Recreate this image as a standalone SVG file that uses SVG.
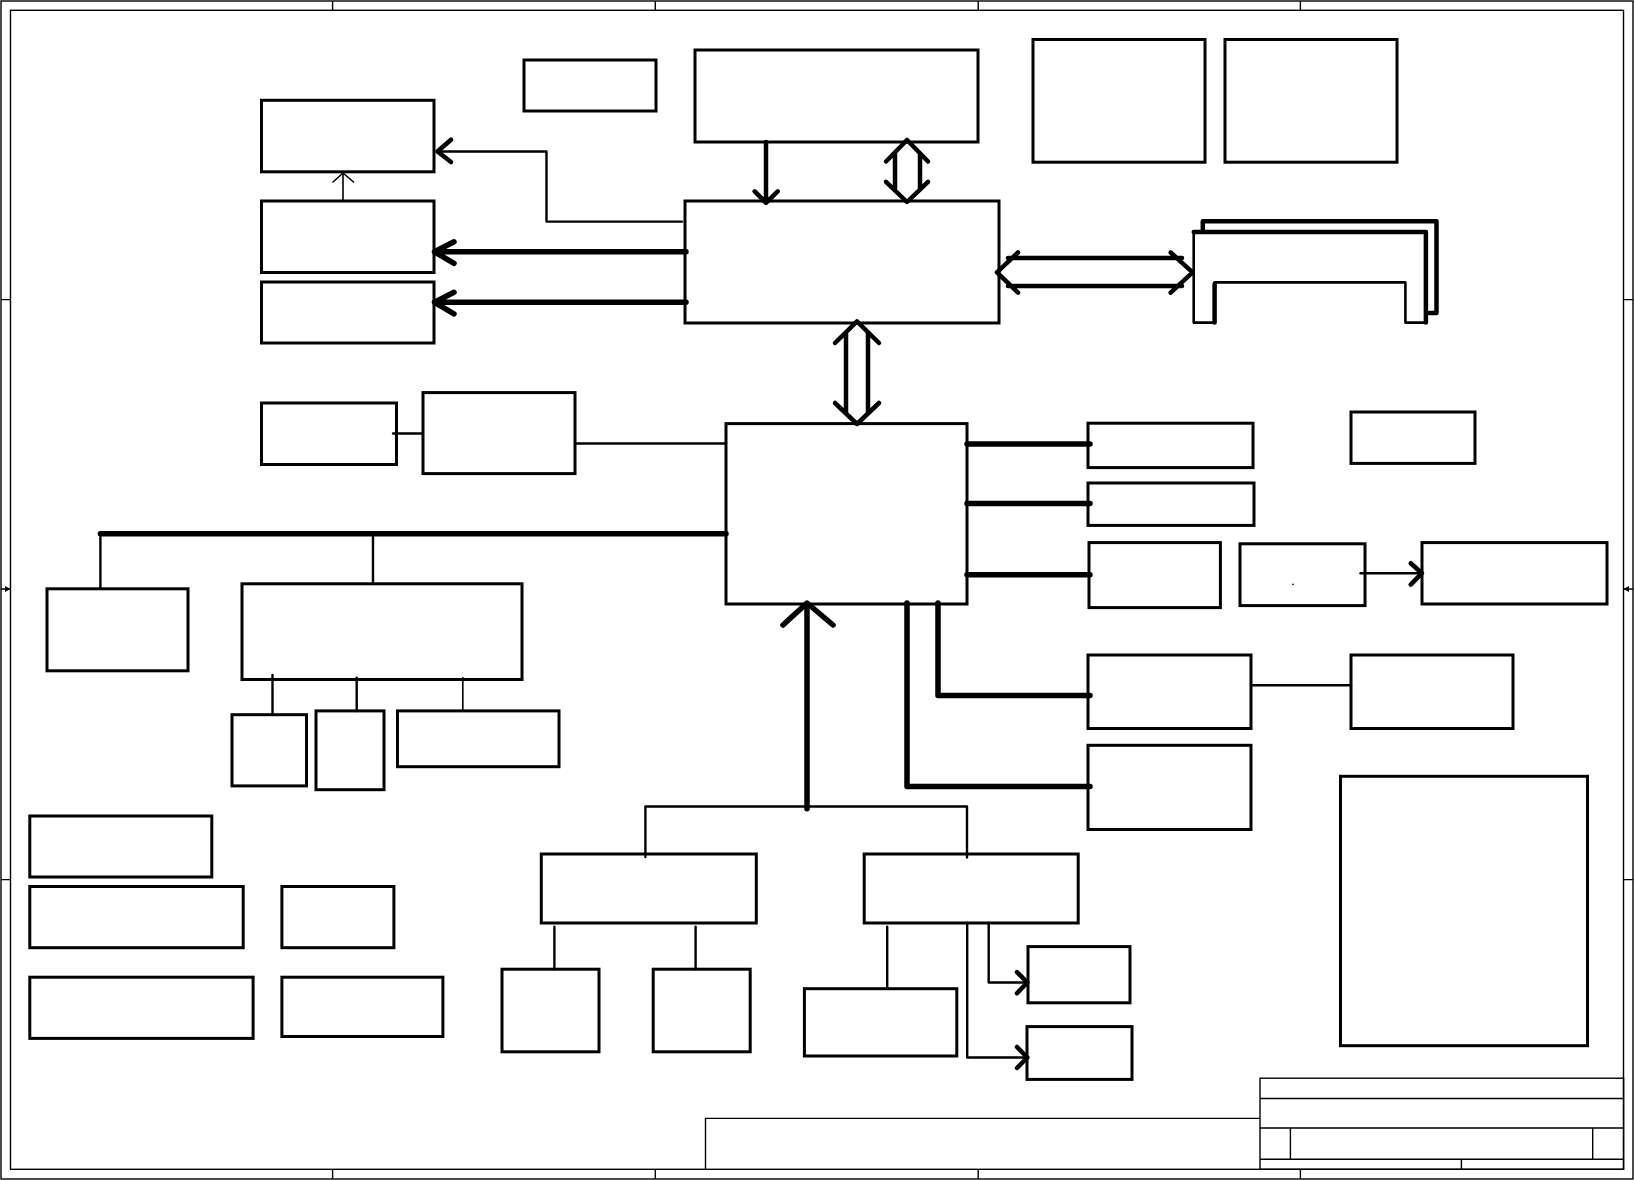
<svg xmlns="http://www.w3.org/2000/svg" width="1634" height="1180" viewBox="0 0 1634 1180">
<style>
.frame{fill:none;stroke:#000;stroke-width:1.4}
.box{fill:none;stroke:#000;stroke-width:3}
.c{fill:none;stroke:#000;stroke-linecap:round;stroke-linejoin:round}
.t1{stroke-width:1.6}
.t2{stroke-width:2.4}
.t4{stroke-width:4.5}
.t5{stroke-width:5.5}
</style>
<rect width="1634" height="1180" fill="#fff"/>
<g id="frame">
<rect class="frame" x="1" y="1" width="1632" height="1178"/>
<rect class="frame" x="10.5" y="10.3" width="1613" height="1159"/>
<path class="frame" d="M332.6,1V10.3M655.3,1V10.3M978.2,1V10.3M1300.4,1V10.3M332.6,1169.3V1179M655.3,1169.3V1179M978.2,1169.3V1179M1300.4,1169.3V1179M1,299.6H10.5M1,879.6H10.5M1623.6,299.6H1633M1623.6,879.6H1633M1,589H10.5M1623.6,589H1633"/>
<path d="M5,586L10.5,589L5,592Z M1629,586L1623.6,589L1629,592Z" fill="#000"/>
<rect class="frame" x="1260" y="1078.2" width="363.6" height="91.1"/>
<path class="frame" d="M1260,1098.5H1623.6M1260,1128H1623.6M1260,1159.3H1623.6M1290.4,1128V1159.3M1592.7,1128V1159.3M1461.4,1159.3V1169.3M705.5,1169.3V1118.4H1260"/>
</g>
<g id="connectors">
<path class="c t4" d="M766,142V201M754.7,191.3L766,202.8L777.7,191.3"/>
<path class="c t4" d="M886,161.5L907,140L928,161.5M886,181.8L907,202L928,181.8M895,154V188M920,154V188"/>
<path class="c t2" d="M682,221.6H546.5V151.5H438"/>
<path class="c t4" d="M451,139.7L437.5,151.5L451,162"/>
<path class="c t5" d="M686,251.8H437M454,241.8L434.5,251.8L454,263.3"/>
<path class="c t5" d="M686,302.3H437M454,292.3L434.5,302.3L454,313.8"/>
<path class="c t1" d="M343,201V173.5M333,182L343,173L353.5,182"/>
<path class="c t4" d="M1018,252.5L997,272.4L1018,292.7M1170.7,252.5L1192.6,272.4L1170.7,292.7M1008,258H1182M1008,286H1182"/>
<path class="c t4" d="M835,343L857,321.4L879,343M835,403L857,424L879,403M846,333V413M868,333V413"/>
<path class="c t2" d="M393,433.5H423M575,443.5H726"/>
<path class="c t5" d="M100.4,533.8H726"/>
<path class="c t2" d="M100.4,533.8V588.8M373,537V583.8M272.5,675V714.7M356.7,677.6V711"/>
<path class="c t1" d="M462.8,677.6V711"/>
<path class="c t5" d="M967,443.9H1090M967,503.6H1090M967,574.8H1090"/>
<path class="c t2" d="M1360.5,573.2H1420"/>
<path class="c t4" d="M1410.7,563.2L1422,573.2L1410.7,584.7"/>
<path class="c t5" d="M938,603V695.6H1090M907,603V786.6H1090"/>
<path class="c t2" d="M1251,685.2H1351"/>
<path class="c t5" d="M807,808.8V606M783,625L807,603L833,625"/>
<path class="c t2" d="M645.4,857V806.5H967V857.4M554.4,926.7V969.2M695.6,926.7V969.2M887.2,926.7V988.7M988.7,922.9V982.5H1026M967.2,922.9V1057.5H1026"/>
<path class="c t4" d="M1017,972.2L1027.4,982.5L1017,993.3M1017,1047L1027.4,1057.5L1017,1068"/>
</g>
<g id="nodeA"><rect class="box" x="261.5" y="100.3" width="172.5" height="71.5"/></g>
<g id="nodeB"><rect class="box" x="261.5" y="201" width="172.5" height="71.5"/></g>
<g id="nodeC"><rect class="box" x="261.5" y="282" width="172.5" height="61"/></g>
<g id="nodeD"><rect class="box" x="524" y="60" width="132" height="51"/></g>
<g id="nodeE"><rect class="box" x="695" y="50" width="283" height="92"/></g>
<g id="nodeF"><rect class="box" x="685" y="201" width="314" height="122"/></g>
<g id="nodeN1"><rect class="box" x="1033" y="39.5" width="172" height="122.7"/></g>
<g id="nodeN2"><rect class="box" x="1225" y="39.5" width="172" height="122.7"/></g>
<g id="nodeP">
<path class="c t4" d="M1202.8,229.6V221.2H1436.5V313H1429"/>
<path class="c" stroke-width="2.6" d="M1193.7,322.6V231.9H1425.9V322.6H1405.4V282.4H1214.6V322.6Z"/>
<path class="c t4" d="M1193.7,231.9H1425.9V322.6M1214.6,284V322.6"/>
</g>
<g id="nodeG"><rect class="box" x="261.5" y="403" width="135" height="61.5"/></g>
<g id="nodeH"><rect class="box" x="423" y="392.6" width="152" height="81"/></g>
<g id="nodeSB"><rect class="box" x="726" y="423.6" width="241" height="180.4"/></g>
<g id="nodeQ"><rect class="box" x="1351" y="412" width="124" height="51.4"/></g>
<g id="nodeR1"><rect class="box" x="1088" y="423.2" width="165" height="44.4"/></g>
<g id="nodeR2"><rect class="box" x="1088" y="483" width="166" height="42.4"/></g>
<g id="nodeR3"><rect class="box" x="1089" y="542.6" width="131.4" height="65"/></g>
<g id="nodeR4"><rect class="box" x="1240" y="543.8" width="125" height="61.8"/><circle cx="1293" cy="584.4" r="0.8" fill="#000"/></g>
<g id="nodeR5"><rect class="box" x="1422" y="542.6" width="185" height="61.4"/></g>
<g id="nodeI"><rect class="box" x="47" y="588.8" width="141" height="82"/></g>
<g id="nodeJ"><rect class="box" x="242" y="583.8" width="280" height="95.7"/></g>
<g id="nodeJ1"><rect class="box" x="232" y="714.7" width="74.5" height="71.2"/></g>
<g id="nodeJ2"><rect class="box" x="316" y="710.9" width="68" height="78.8"/></g>
<g id="nodeJ3"><rect class="box" x="397.5" y="710.9" width="161.5" height="55.8"/></g>
<g id="nodeS1"><rect class="box" x="1088" y="655" width="163" height="73.5"/></g>
<g id="nodeS2"><rect class="box" x="1351" y="655" width="162" height="73.5"/></g>
<g id="nodeS3"><rect class="box" x="1088" y="745.3" width="163" height="84.2"/></g>
<g id="nodeT"><rect class="box" x="1340.5" y="776.3" width="247" height="269.4"/></g>
<g id="nodeM1"><rect class="box" x="29.8" y="816" width="182" height="61"/></g>
<g id="nodeM2"><rect class="box" x="29.8" y="886.5" width="213.4" height="61.2"/></g>
<g id="nodeM3"><rect class="box" x="281.9" y="886.5" width="112" height="61.2"/></g>
<g id="nodeM4"><rect class="box" x="29.8" y="977.2" width="223.3" height="61.2"/></g>
<g id="nodeM5"><rect class="box" x="281.9" y="977.2" width="161" height="59.3"/></g>
<g id="nodeK"><rect class="box" x="541.3" y="854" width="215" height="69"/></g>
<g id="nodeL"><rect class="box" x="864.2" y="854" width="214" height="69"/></g>
<g id="nodeK1"><rect class="box" x="502" y="969.2" width="97" height="82.6"/></g>
<g id="nodeK2"><rect class="box" x="653.2" y="969.2" width="97" height="82.6"/></g>
<g id="nodeL1"><rect class="box" x="804.4" y="988.7" width="152.4" height="67.3"/></g>
<g id="nodeL2"><rect class="box" x="1028" y="946.6" width="102" height="56.2"/></g>
<g id="nodeL3"><rect class="box" x="1027" y="1026.6" width="105" height="52.8"/></g>
</svg>
